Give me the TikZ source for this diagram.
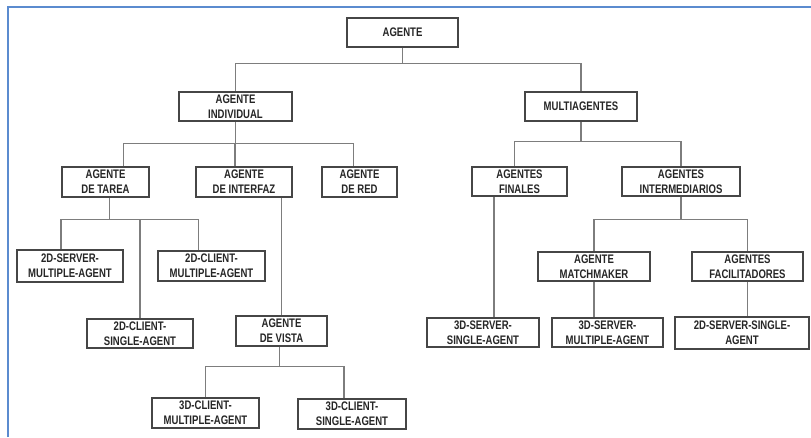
\documentclass[tikz,border=0pt]{standalone}
\usepackage{fontspec}
\setmainfont{Liberation Sans}[FakeStretch=0.77]
\usepackage{tikz}
\usetikzlibrary{positioning,calc}

\definecolor{framecol}{RGB}{91,139,207}
\definecolor{boxcol}{RGB}{70,70,70}
\definecolor{linkcol}{RGB}{125,125,125}

\tikzset{
    box/.style={draw=boxcol, fill=white, line width=1.6pt, align=center,
        minimum width=#1*0.75pt, minimum height=22pt, inner sep=1pt,
        text=black!85, font=\fontsize{9.3}{11.5}\selectfont\bfseries},
    link/.style={draw=linkcol, line width=0.8pt},
    frame/.style={draw=framecol, line width=1.5pt}
}

\begin{document}
\begin{tikzpicture}[x=0.75pt, y=0.75pt]
    \useasboundingbox (0,0) rectangle (811,437);
    % Frame
    \draw[frame] (8,0) -- (8,430) -- (811,430);

    % Root and first level
    \node[box=111] (agente) at (402.5,404.5) {AGENTE};
    \node[box=113] (indiv) at (235.5,330.5) {AGENTE\\INDIVIDUAL};
    \node[box=112] (multi) at (581,330.5) {MULTIAGENTES};

    % Second level
    \node[box=87] (tarea) at (105.5,255) {AGENTE\\DE TAREA};
    \node[box=96] (interfaz) at (244,255) {AGENTE\\DE INTERFAZ};
    \node[box=75] (red) at (359.5,255) {AGENTE\\DE RED};
    \node[box=95] (finales) at (519.5,255.5) {AGENTES\\FINALES};
    \node[box=118] (interm) at (681,255.5) {AGENTES\\INTERMEDIARIOS};

    % Third level
    \node[box=106, minimum height=24pt] (srvmult) at (70,171) {2D-SERVER-\\MULTIPLE-AGENT};
    \node[box=107] (climult) at (211.5,171) {2D-CLIENT-\\MULTIPLE-AGENT};
    \node[box=112] (match) at (594,170.5) {AGENTE\\MATCHMAKER};
    \node[box=111] (facil) at (747.5,170.5) {AGENTES\\FACILITADORES};

    % Fourth level
    \node[box=106] (clisingle) at (140,103.5) {2D-CLIENT-\\SINGLE-AGENT};
    \node[box=91] (vista) at (281.5,106) {AGENTE\\DE VISTA};
    \node[box=112] (srvsingle3) at (483,104.5) {3D-SERVER-\\SINGLE-AGENT};
    \node[box=111] (srvmult3) at (607.5,104.5) {3D-SERVER-\\MULTIPLE-AGENT};
    \node[box=134, minimum height=24pt] (srvsingle2) at (742,104) {2D-SERVER-SINGLE-\\AGENT};

    % Bottom level
    \node[box=107] (climult3) at (205.5,24) {3D-CLIENT-\\MULTIPLE-AGENT};
    \node[box=108] (clisingle3) at (352,23) {3D-CLIENT-\\SINGLE-AGENT};

    % Connectors
    \draw[link] (agente.south) -- ++(0,-15) coordinate (j0);
    \draw[link] (indiv.north) |- (j0);
    \draw[link] (multi.north) |- (j0);

    \draw[link] (indiv.south) -- ++(0,-21) coordinate (j1);
    \draw[link] (tarea.north) ++(18,0) |- (j1);
    \draw[link] (interfaz.north) ++(-9,0) |- (j1);
    \draw[link] (red.north) ++(-6,0) |- (j1);

    \draw[link] (multi.south) -- ++(0,-19) coordinate (j2);
    \draw[link] (finales.north) ++(-5,0) |- (j2);
    \draw[link] (interm.north) |- (j2);

    \draw[link] (tarea.south) ++(4,0) -- ++(0,-22) coordinate (j3);
    \draw[link] (srvmult.north) ++(-9,0) |- (j3);
    \draw[link] (clisingle.north) |- (j3);
    \draw[link] (climult.north) ++(-13,0) |- (j3);

    \draw[link] (interm.south) -- ++(0,-22) coordinate (j4);
    \draw[link] (match.north) |- (j4);
    \draw[link] (facil.north) |- (j4);

    \draw[link] (vista.north) -- (vista.north |- interfaz.south);
    \draw[link] (vista.south) ++(-2,0) -- ++(0,-20) coordinate (j5);
    \draw[link] (climult3.north) |- (j5);
    \draw[link] (clisingle3.north) ++(-8,0) |- (j5);

    \draw[link] (finales.south) ++(-25.5,0) coordinate (f) -- (f |- srvsingle3.north);
    \draw[link] (match.south) -- (match.south |- srvmult3.north);
    \draw[link] (facil.south) -- (facil.south |- srvsingle2.north);
\end{tikzpicture}
\end{document}
